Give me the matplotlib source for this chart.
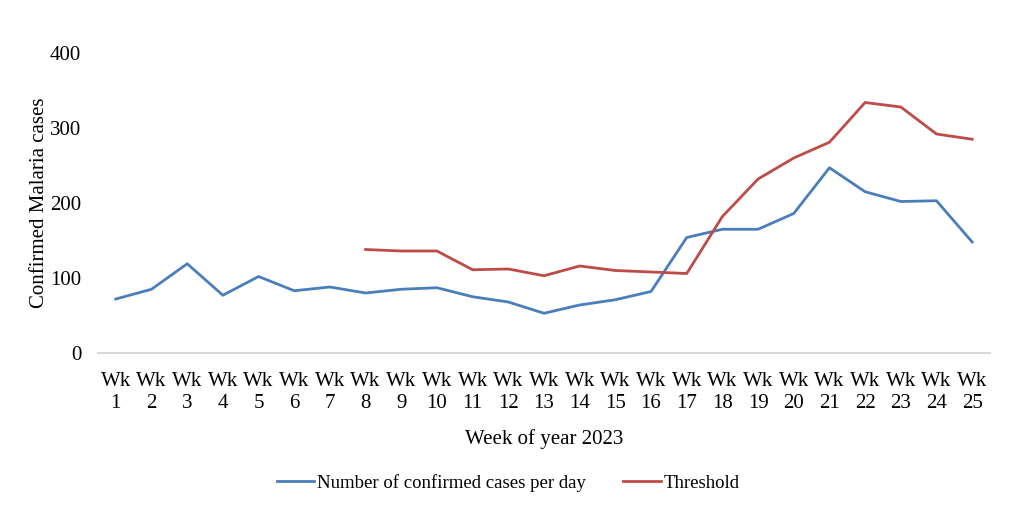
import matplotlib
matplotlib.use("Agg")
import matplotlib.pyplot as plt
import numpy as np

weeks = [f"Wk\n{i}" for i in range(1, 26)]
cases = [72, 85, 119, 77, 102, 83, 88, 80, 85, 87, 75, 68, 53, 64, 71, 82,
         154, 165, 165, 186, 247, 215, 202, 203, 148]
threshold = [None] * 7 + [138, 136, 136, 111, 112, 103, 116, 110, 108, 106,
                          182, 232, 260, 281, 334, 328, 292, 285]

plt.rcParams['font.family'] = ['Liberation Serif', 'DejaVu Serif']

fig = plt.figure(figsize=(10.24, 5.12), dpi=100)
ax = fig.add_axes([98/1024, 1 - 353/512, 892/1024, 300/512])

x = np.arange(1, 26)
thr = np.array([np.nan if v is None else v for v in threshold], dtype=float)
ax.plot(x, cases, color='#4A7EBB', lw=2.0, label='Number of confirmed cases per day')
ax.plot(x, thr, color='#BE4B48', lw=2.0, label='Threshold')

ax.set_xlim(0.5, 25.5)
ax.set_ylim(0, 400)
ax.set_yticks([0, 100, 200, 300, 400])
ax.set_xticks(x)
ax.set_xticklabels(weeks, fontsize=15, linespacing=1.15)
ax.tick_params(axis='y', labelsize=15, length=0, pad=12)
ax.tick_params(axis='x', length=0, pad=14)
for s in ['top', 'right', 'left']:
    ax.spines[s].set_visible(False)
ax.spines['bottom'].set_color('#D9D9D9')
ax.spines['bottom'].set_linewidth(1.5)

ax.set_ylabel('Confirmed Malaria cases', fontsize=15, labelpad=1)
ax.set_xlabel('Week of year 2023', fontsize=15, labelpad=12)

leg = fig.legend(loc='center', bbox_to_anchor=(508/1024, 1 - 483/512), ncol=2,
                 frameon=False, fontsize=13.5, handlelength=2.0, handletextpad=0.15,
                 columnspacing=2.0)

fig.savefig('out.png', dpi=100)
